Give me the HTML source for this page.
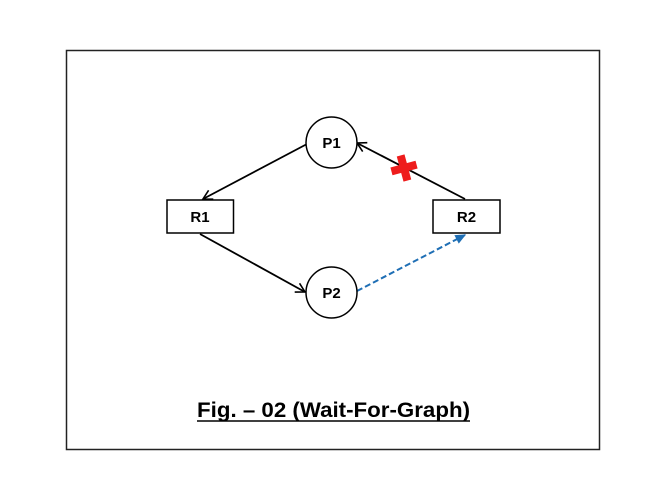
<!DOCTYPE html>
<html><head><meta charset="utf-8"><style>
html,body{margin:0;padding:0;background:#fff;}
svg{display:block;}
text{font-family:"Liberation Sans",sans-serif;font-weight:bold;fill:#000;}
</style></head><body>
<svg width="666" height="500" viewBox="0 0 666 500" xmlns="http://www.w3.org/2000/svg">
<defs>
<marker id="ah" markerWidth="12" markerHeight="12" refX="10" refY="6" orient="auto" markerUnits="userSpaceOnUse">
<path d="M1,1 L10,6 L1,11" fill="none" stroke="#000" stroke-width="1.6"/>
</marker>
<marker id="ahb" markerWidth="12" markerHeight="12" refX="10" refY="6" orient="auto" markerUnits="userSpaceOnUse">
<path d="M1,2 L10,6 L1,10 Z" fill="#1f6fb5" stroke="#1f6fb5" stroke-width="1"/>
</marker>
</defs>
<rect x="66.5" y="50.5" width="533" height="399" fill="none" stroke="#222" stroke-width="1.5"/>
<!-- edges -->
<line x1="307" y1="144" x2="203" y2="199" stroke="#000" stroke-width="1.8" marker-end="url(#ah)"/>
<line x1="200" y1="234" x2="305" y2="292" stroke="#000" stroke-width="1.8" marker-end="url(#ah)"/>
<line x1="465" y1="199" x2="357" y2="143" stroke="#000" stroke-width="1.8" marker-end="url(#ah)"/>
<line x1="357" y1="291" x2="465" y2="235" stroke="#1f6fb5" stroke-width="2" stroke-dasharray="6,3" marker-end="url(#ahb)"/>
<!-- nodes -->
<circle cx="331.5" cy="142.5" r="25.5" fill="#fff" stroke="#000" stroke-width="1.5"/>
<text x="331.5" y="148" font-size="15" text-anchor="middle">P1</text>
<circle cx="331.5" cy="292.5" r="25.5" fill="#fff" stroke="#000" stroke-width="1.5"/>
<text x="331.5" y="298" font-size="15" text-anchor="middle">P2</text>
<rect x="167" y="200" width="66.5" height="33" fill="#fff" stroke="#000" stroke-width="1.5"/>
<text x="200" y="222" font-size="15" text-anchor="middle">R1</text>
<rect x="433" y="200" width="67" height="33" fill="#fff" stroke="#000" stroke-width="1.5"/>
<text x="466.5" y="222" font-size="15" text-anchor="middle">R2</text>
<!-- red cross -->
<g transform="translate(404,168) rotate(-15)" fill="#ee1c1c">
<rect x="-13" y="-4" width="26" height="8"/>
<rect x="-4" y="-13" width="8" height="26"/>
</g>
<!-- title -->
<text x="197" y="417" font-size="21" textLength="273" lengthAdjust="spacingAndGlyphs">Fig. – 02 (Wait-For-Graph)</text>
<line x1="197" y1="421" x2="470" y2="421" stroke="#000" stroke-width="1.5"/>
</svg>
</body></html>
